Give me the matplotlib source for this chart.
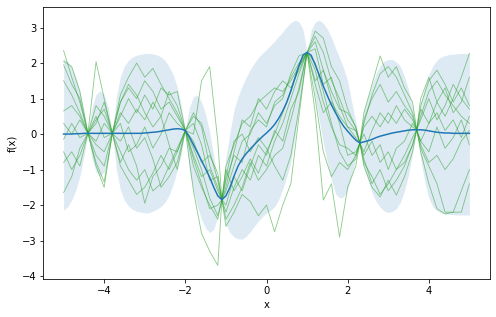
import numpy as np
import matplotlib
matplotlib.use("Agg")
import matplotlib.pyplot as plt

# fine grid for the mean line and the band (step 0.1)
x_band = np.linspace(-5, 5, 101)

# posterior mean
mean = [0.00, 0.00, 0.00, 0.01, 0.01, 0.02, 0.02, 0.02, 0.02, 0.02,
        0.02, 0.02, 0.02, 0.02, 0.02, 0.02, 0.02, 0.02, 0.02, 0.02,
        0.03, 0.04, 0.05, 0.06, 0.08, 0.10, 0.12, 0.14, 0.15, 0.14,
        0.10, -0.08, -0.30, -0.52, -0.75, -0.98, -1.22, -1.50, -1.74, -1.85,
        -1.74, -1.50, -1.18, -0.90, -0.70, -0.55, -0.42, -0.30, -0.18, -0.07,
        0.03, 0.14, 0.27, 0.44, 0.65, 0.90, 1.22, 1.58, 1.93, 2.22,
        2.30, 2.22, 1.95, 1.66, 1.35, 1.08, 0.82, 0.60, 0.40, 0.22,
        0.08, -0.05, -0.17, -0.25, -0.22, -0.19, -0.15, -0.10, -0.06, -0.03,
        0.00, 0.03, 0.05, 0.07, 0.09, 0.11, 0.12, 0.12, 0.12, 0.11,
        0.09, 0.07, 0.05, 0.04, 0.03, 0.03, 0.02, 0.02, 0.02, 0.02,
        0.02]

# confidence band edges
upper = [2.13, 2.05, 1.88, 1.60, 1.22, 0.68, 0.02, 0.75, 1.12, 1.22,
         1.12, 0.75, 0.02, 1.05, 1.62, 1.92, 2.08, 2.17, 2.22, 2.25,
         2.27, 2.27, 2.26, 2.23, 2.17, 2.07, 1.90, 1.67, 1.33, 0.80,
         0.10, 0.75, 1.05, 1.10, 0.90, 0.55, 0.05, -0.62, -1.35, -1.85,
         -0.65, 0.05, 0.68, 1.05, 1.35, 1.60, 1.82, 2.00, 2.15, 2.28,
         2.38, 2.50, 2.62, 2.75, 2.88, 3.02, 3.14, 3.21, 3.16, 2.95,
         2.30, 2.93, 3.15, 3.21, 3.12, 2.95, 2.72, 2.42, 2.15, 1.85,
         1.50, 0.90, 0.35, -0.25, 0.65, 1.05, 1.40, 1.70, 1.93, 2.05,
         2.10, 2.10, 2.03, 1.90, 1.62, 1.25, 0.75, 0.12, 0.85, 1.30,
         1.68, 1.92, 2.08, 2.17, 2.21, 2.24, 2.25, 2.26, 2.27, 2.27,
         2.27]
lower = [-2.14, -2.05, -1.86, -1.58, -1.19, -0.64, 0.02, -0.70, -1.07, -1.18,
         -1.07, -0.70, 0.02, -1.00, -1.57, -1.87, -2.03, -2.12, -2.17, -2.20,
         -2.22, -2.22, -2.17, -2.12, -2.04, -1.92, -1.72, -1.42, -1.03, -0.55,
         0.10, -1.05, -1.60, -2.05, -2.40, -2.65, -2.78, -2.68, -2.32, -1.85,
         -2.55, -2.78, -2.90, -2.95, -2.96, -2.88, -2.75, -2.60, -2.45, -2.33,
         -2.22, -2.15, -2.05, -1.85, -1.55, -1.20, -0.78, -0.10, 0.75, 1.60,
         2.30, 1.75, 1.00, 0.40, -0.26, -0.80, -1.30, -1.68, -1.80, -1.77,
         -1.55, -1.15, -0.70, -0.25, -0.95, -1.30, -1.65, -1.90, -2.06, -2.17,
         -2.21, -2.18, -2.10, -1.92, -1.60, -1.15, -0.55, 0.12, -0.70, -1.35,
         -1.80, -2.05, -2.16, -2.22, -2.25, -2.26, -2.27, -2.28, -2.28, -2.28,
         -2.28]

x_grid = [-5.0, -4.8, -4.6, -4.4, -4.2, -4.0, -3.8, -3.6, -3.4, -3.2,
          -3.0, -2.8, -2.6, -2.4, -2.2, -2.0, -1.8, -1.6, -1.4, -1.2,
          -1.1, -1.0, -0.8, -0.6, -0.4, -0.2, 0.0, 0.2, 0.4, 0.6,
          0.8, 1.0, 1.2, 1.4, 1.6, 1.8, 2.0, 2.2, 2.3, 2.4,
          2.6, 2.8, 3.0, 3.2, 3.4, 3.6, 3.7, 3.8, 4.0, 4.2,
          4.4, 4.6, 4.8, 5.0]

# posterior samples
sample_a = [2.35, 1.6, 0.9, 0.02, -0.8, -1.35, 0.02, 0.9, 1.3, 1.0,
            1.5, 1.2, 0.7, 0.9, 0.5, 0.1, -0.6, -1.2, -1.0, -1.6,
            -1.85, -1.3, -0.6, -0.8, 0.1, 0.4, 0.2, 0.9, 1.1, 1.6,
            2.0, 2.3, 2.75, 2.3, 1.5, 1.0, 0.4, 0.1, -0.25, -0.8,
            -1.2, -1.7, -1.4, -1.0, -0.8, -0.3, 0.12, 0.5, 1.2, 1.5,
            1.1, 0.8, 0.5, 0.3]
sample_b = [2.05, 1.9, 1.2, 0.02, 2.04, 1.0, 0.02, -0.8, -0.3, -0.9,
            -1.95, -1.2, -0.9, -0.4, -0.5, 0.1, 0.0, 1.5, 1.9, -0.2,
            -1.85, -2.2, -1.5, -1.0, -1.3, -0.6, -0.9, -0.2, 0.3, 1.0,
            1.7, 2.3, 1.4, 0.6, 0.9, 0.5, 0.2, -0.1, -0.25, 0.3,
            1.1, 1.7, 1.9, 1.6, 1.1, 0.6, 0.12, -0.3, -0.8, -0.6,
            -1.0, -0.7, -0.2, 0.1]
sample_c = [1.95, 1.4, 1.0, 0.02, -0.3, -0.5, 0.02, 1.1, 1.6, 2.0,
            1.6, 1.85, 1.4, 1.0, 0.6, 0.1, -0.4, -1.0, -1.8, -2.3,
            -1.85, -0.9, -0.3, 0.3, 0.5, 0.9, 1.1, 1.3, 1.2, 1.5,
            1.9, 2.3, 2.6, 1.8, 1.2, 0.7, 0.6, 0.2, -0.25, -0.9,
            -1.5, -1.77, -1.3, -1.72, -1.2, -0.5, 0.12, 0.8, 1.5, 1.8,
            1.4, 0.9, 1.3, 0.8]
sample_d = [1.5, 1.1, 0.6, 0.02, -0.6, -0.9, 0.02, 0.6, 0.3, 0.7,
            0.4, 0.9, 0.5, 1.2, 0.8, 0.1, -0.9, -1.5, -2.0, -2.4,
            -1.85, -1.0, -1.6, -1.2, -0.7, -1.1, -0.5, 0.0, 0.6, 1.2,
            1.9, 2.3, 2.0, 1.2, 0.3, -0.5, -0.9, -0.7, -0.25, 0.2,
            0.5, 0.2, 0.6, 0.3, 0.7, 0.4, 0.12, -0.4, -0.9, -1.4,
            -2.2, -2.2, -1.6, -1.0]
sample_e = [0.65, 0.8, 0.5, 0.02, 0.4, 0.7, 0.02, -0.5, -1.0, -1.3,
            -1.0, -1.6, -1.4, -0.9, -0.4, 0.1, 0.5, 0.3, -0.5, -1.3,
            -1.85, -2.6, -2.2, -1.7, -1.9, -2.3, -2.0, -2.75, -2.0, -1.4,
            0.5, 2.3, 1.0, -0.5, -1.2, -0.8, -1.0, -0.6, -0.25, 0.4,
            1.0, 1.4, 0.9, 1.2, 0.8, 0.5, 0.12, -0.2, 0.3, 0.9,
            0.5, 1.0, 1.6, 2.27]
sample_f = [0.3, 0.0, 0.4, 0.02, -0.2, 0.3, 0.02, 0.5, 1.0, 0.6,
            1.1, 0.7, 1.3, 1.1, 1.2, 0.1, -0.2, -0.8, -0.6, -1.1,
            -1.85, -1.6, -0.9, -0.2, 0.0, 0.6, 0.3, 0.8, 1.0, 1.7,
            2.2, 2.3, 2.9, 2.7, 1.9, 1.5, 0.7, 0.2, -0.25, -0.6,
            -0.2, -0.8, -0.5, -1.0, -0.6, -0.1, 0.12, 0.7, 0.3, 0.6,
            0.1, 0.4, -0.1, 0.5]
sample_g = [-0.15, 0.3, -0.1, 0.02, 0.8, 0.5, 0.02, -0.2, 0.2, -0.4,
            -0.1, -0.7, -1.5, -1.2, -0.8, 0.1, -1.6, -2.8, -3.3, -3.7,
            -1.85, -2.4, -2.0, -1.5, -0.8, -1.3, -1.0, -0.6, -0.4, 0.4,
            1.3, 2.3, 0.6, -1.86, -1.4, -2.9, -1.5, -0.9, -0.25, 0.6,
            1.4, 2.2, 1.6, 1.9, 1.3, 0.9, 0.12, -0.5, -1.4, -2.1,
            -2.25, -2.2, -2.2, -1.4]
sample_h = [-0.5, -1.0, -0.6, 0.02, 0.5, -0.1, 0.02, 0.9, 1.4, 1.1,
            0.6, 0.2, 0.5, -0.3, -1.0, 0.1, 0.6, 0.2, -0.9, -1.5,
            -1.85, -1.5, -0.5, 0.4, 0.2, 1.0, 0.7, 1.2, 1.5, 1.3,
            1.8, 2.3, 1.5, 1.8, 1.0, 0.3, -0.6, -0.5, -0.25, -0.7,
            -1.4, -1.0, -1.6, -1.3, -0.9, -0.3, 0.12, 1.0, 1.6, 0.9,
            1.3, 0.6, 0.9, 1.6]
sample_i = [-0.8, -0.5, -0.9, 0.02, -0.9, -1.5, 0.02, 0.3, -0.5, -0.3,
            0.2, -0.4, 0.0, 0.6, 0.3, 0.1, -0.7, -1.4, -2.1, -2.0,
            -1.85, -2.0, -1.2, -1.6, -0.9, -0.3, -0.6, 0.1, -0.2, 0.7,
            1.2, 2.3, 2.4, 1.4, 1.6, 0.8, 0.2, 0.1, -0.25, -0.5,
            0.1, 0.6, 0.3, 0.8, 0.4, 0.2, 0.12, -0.2, -0.5, 0.2,
            -0.4, -0.1, 0.4, -0.3]
sample_j = [-1.65, -1.2, -0.4, 0.02, 0.3, 0.9, 0.02, -0.9, -1.3, -1.7,
            -1.5, -1.1, -0.6, -1.0, -0.5, 0.1, 0.3, -0.3, -1.3, -1.2,
            -1.85, -1.2, -0.2, 0.0, -0.5, -0.1, -0.4, -0.9, -1.3, -0.6,
            0.7, 2.3, 1.8, 0.9, 0.2, -0.3, -0.4, -0.6, -0.25, 0.0,
            -0.6, -0.3, -1.0, -0.4, -0.2, 0.3, 0.12, 0.4, 1.0, 0.4,
            0.8, 1.4, 1.0, 0.7]

samples = [sample_a, sample_b, sample_c, sample_d, sample_e,
           sample_f, sample_g, sample_h, sample_i, sample_j]


def main():
    fig = plt.figure(figsize=(496 / 72, 317 / 72), dpi=72)
    ax = fig.add_axes([0.0873, 0.119, 0.9, 0.858])

    # band
    ax.fill_between(x_band, lower, upper, color="tab:blue", alpha=0.15,
                    linewidth=0)

    # samples
    for s in samples:
        ax.plot(x_grid, s, color="tab:green", alpha=0.55, linewidth=0.85)

    # mean
    ax.plot(x_band, mean, color="tab:blue", linewidth=1.5)

    ax.set_xlim(-5.5, 5.5)
    ax.set_ylim(-4.09, 3.57)
    ax.set_xlabel("x")
    ax.set_ylabel("f(x)")

    fig.savefig("out.png", dpi=72)


main()
